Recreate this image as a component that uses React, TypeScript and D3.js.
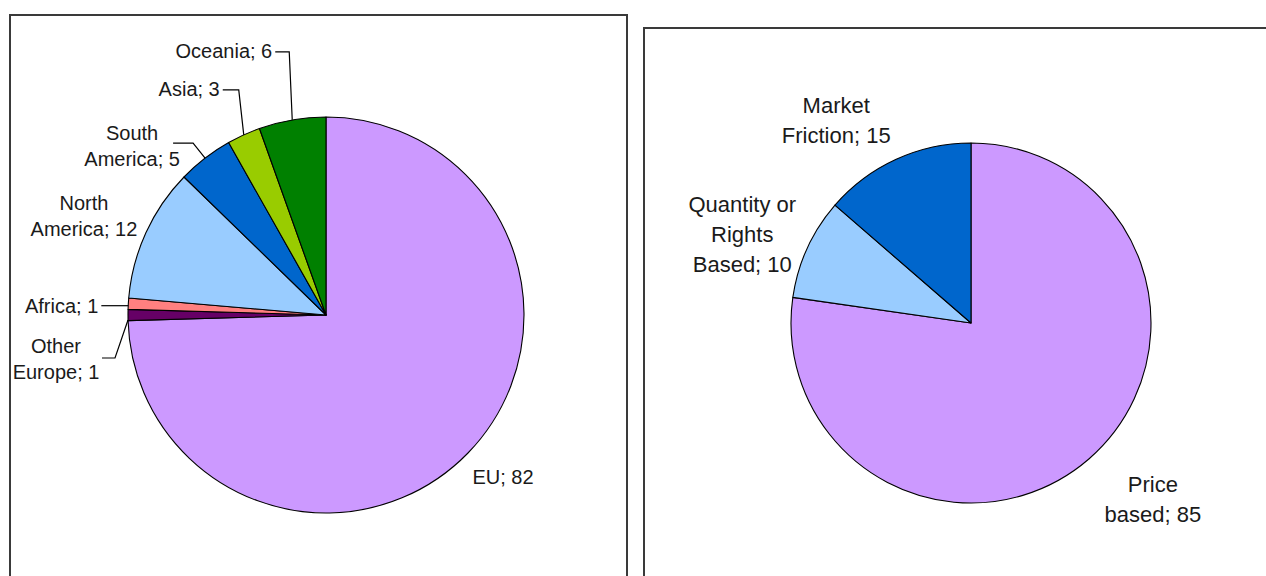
import React from "react";
import * as d3 from "d3";

// ---- Data ----
const regionNames = ["EU", "Other Europe", "Africa", "North America", "South America", "Asia", "Oceania"];
const regionValues = [82, 1, 1, 12, 5, 3, 6];
const regionLabels = [["EU; 82"], ["Other", "Europe; 1"], ["Africa; 1"], ["North", "America; 12"], ["South", "America; 5"], ["Asia; 3"], ["Oceania; 6"]];
const regionColors = ["#CC99FF", "#660066", "#FF8080", "#99CCFF", "#0066CC", "#99CC00", "#008000"];

const typeNames = ["Price based", "Quantity or Rights Based", "Market Friction"];
const typeValues = [85, 10, 15];
const typeLabels = [["Price", "based; 85"], ["Quantity or", "Rights", "Based; 10"], ["Market", "Friction; 15"]];
const typeColors = ["#CC99FF", "#99CCFF", "#0066CC"];

// ---- Layout (label offsets from slice edge midpoint) ----
type LabelLayout = { dx: number; dy: number; anchor: string; leader?: [number, number][] };
const regionLayout: LabelLayout[] = [
  { dx: 35, dy: 31, anchor: "middle" },
  { dx: -72, dy: 38, anchor: "middle", leader: [[-26, 43], [-13, 43], [0, 5]] },
  { dx: -30, dy: 9, anchor: "end", leader: [[-27, 2], [0, 2]] },
  { dx: -62, dy: -23, anchor: "middle" },
  { dx: -73, dy: -18, anchor: "middle", leader: [[-32, -15], [-12, -15], [0, 0]] },
  { dx: -24, dy: -39, anchor: "end", leader: [[-21, -45], [-5, -45], [0, 0]] },
  { dx: -20, dy: -62, anchor: "end", leader: [[-17, -68], [-3, -68], [0, 0]] },
];
const typeLayout: LabelLayout[] = [
  { dx: 64, dy: 33, anchor: "middle" },
  { dx: -65, dy: -36, anchor: "middle" },
  { dx: -60, dy: -46, anchor: "middle" },
];

type PieProps = {
  names: string[];
  values: number[];
  labels: string[][];
  colors: string[];
  layout: LabelLayout[];
  cx: number;
  cy: number;
  r: number;
  fontSize: number;
  lineHeight: number;
};

function Pie({ names, values, labels, colors, layout, cx, cy, r, fontSize, lineHeight }: PieProps) {
  const rows = names.map((n, i) => ({ name: n, value: values[i], i }));
  const pie = d3.pie<any>().sort(null).value((d) => d.value).startAngle(0).endAngle(2 * Math.PI);
  const arcs = pie(rows);
  const arc = d3.arc<any>().innerRadius(0).outerRadius(r);
  const edge = d3.arc<any>().innerRadius(r).outerRadius(r);
  const line = d3.line();
  return (
    <g transform={`translate(${cx},${cy})`}>
      {arcs.map((a) => (
        <path key={a.data.name} d={arc(a) || ""} fill={colors[a.data.i]} stroke="#000" strokeWidth={1.1} strokeLinejoin="round" />
      ))}
      {arcs.map((a) => {
        const [ex, ey] = edge.centroid(a);
        const L = layout[a.data.i];
        const lines = labels[a.data.i];
        return (
          <g key={"l" + a.data.name}>
            {L.leader && (
              <path
                d={line(L.leader.map(([x, y]) => [ex + x, ey + y] as [number, number])) || ""}
                fill="none"
                stroke="#000"
                strokeWidth={1.2}
              />
            )}
            <text
              x={ex + L.dx}
              y={ey + L.dy}
              textAnchor={L.anchor}
              fontFamily="'Liberation Sans', Arial, sans-serif"
              fontSize={fontSize}
              fill="#1a1a1a"
            >
              {lines.map((t, k) => (
                <tspan key={k} x={ex + L.dx} dy={k === 0 ? 0 : lineHeight}>
                  {t}
                </tspan>
              ))}
            </text>
          </g>
        );
      })}
    </g>
  );
}

export default function App() {
  return (
    <svg
      width={1266}
      height={576}
      style={{ position: "absolute", left: 0, top: 0, background: "#fff" }}
    >
      <rect x={0} y={0} width={1266} height={576} fill="#fff" />
      <rect x={10} y={15} width={617} height={600} fill="#fff" stroke="#3a3a3a" strokeWidth={2} />
      <rect x={644} y={28} width={640} height={600} fill="#fff" stroke="#3a3a3a" strokeWidth={2} />
      <Pie
        names={regionNames}
        values={regionValues}
        labels={regionLabels}
        colors={regionColors}
        layout={regionLayout}
        cx={326}
        cy={315}
        r={198}
        fontSize={20}
        lineHeight={26}
      />
      <Pie
        names={typeNames}
        values={typeValues}
        labels={typeLabels}
        colors={typeColors}
        layout={typeLayout}
        cx={971}
        cy={323}
        r={180}
        fontSize={22}
        lineHeight={30}
      />
    </svg>
  );
}
